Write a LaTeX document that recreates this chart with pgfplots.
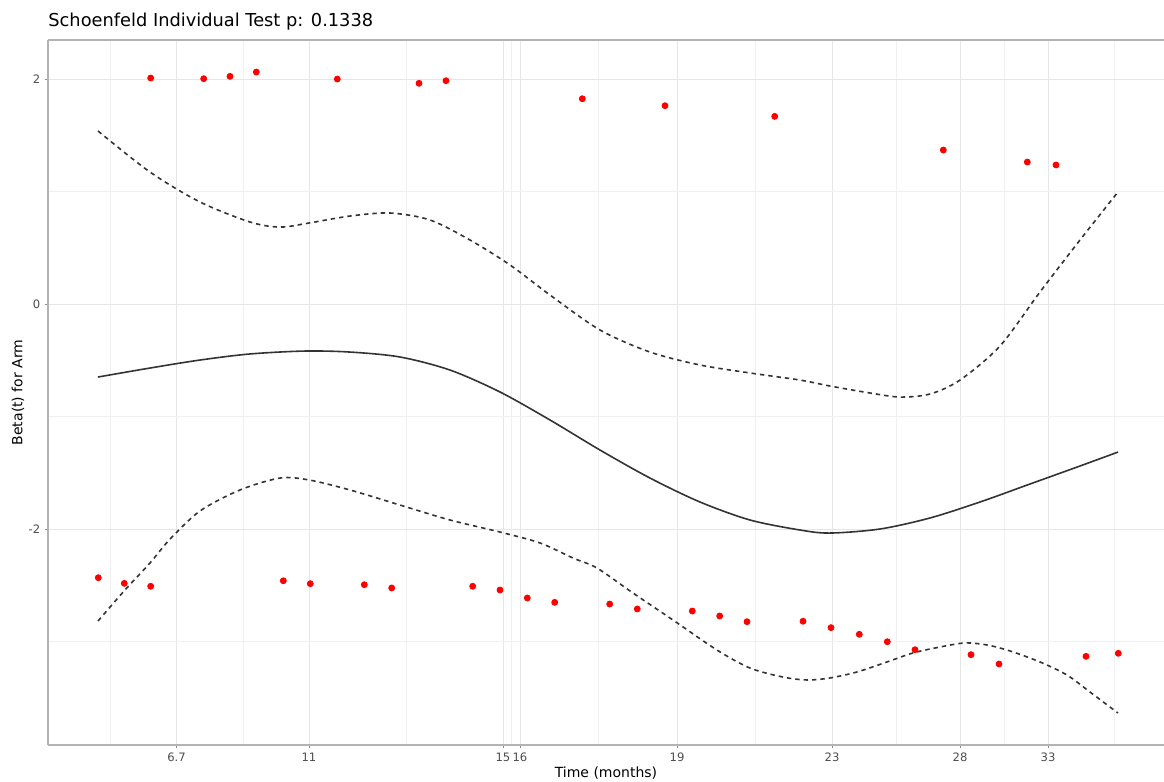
\documentclass[border=0pt]{standalone}
\usepackage{fontspec}
\setmainfont{DejaVu Sans}
\usepackage{pgfplots}
\pgfplotsset{compat=1.18}
\definecolor{gridmaj}{HTML}{E6E6E6}
\definecolor{gridmin}{HTML}{F0F0F0}
\definecolor{borderc}{HTML}{B3B3B3}
\definecolor{tickc}{HTML}{4D4D4D}
\definecolor{tickm}{HTML}{8C8C8C}
\definecolor{linec}{HTML}{333333}
\begin{document}
\begin{tikzpicture}
\begin{axis}[
  name=ax, at={(0,0)}, anchor=south west,
  scale only axis, width=558pt, height=352.5pt,
  xmin=48, xmax=1164, ymin=-3.92, ymax=2.347,
  axis x line=box, axis y line=left,
  axis line style={-, draw=borderc, line width=1pt},
  xtick={176.5,309,503,520,677,832,960,1048},
  xticklabels={6.7,11,15,16,19,23,28,33},
  ytick={-2,0,2}, yticklabels={-2,0,2},
  minor xtick={110.5,243,406,511.5,598.5,755,896,1004,1114},
  minor ytick={-3,-1,1},
  grid=both,
  major grid style={gridmaj, line width=0.5pt},
  minor grid style={gridmin, line width=0.4pt},
  tick align=outside, xtick pos=bottom, ytick pos=left,
  major tick length=1.6pt, minor tick length=0pt,
  every tick/.style={tickm, line width=0.5pt},
  tick label style={font=\fontsize{5.8}{6.5}\selectfont, text=tickc},
  xticklabel style={yshift=1pt},
  yticklabel style={xshift=1.2pt},
  title={Schoenfeld Individual Test p: 0.1338},
  title style={at={(0,1)}, anchor=base west, yshift=0.5pt, inner sep=0pt, font=\fontsize{8.9}{10}\selectfont},
  xlabel={Time (months)}, ylabel={Beta(t) for Arm},
  xlabel style={at={(0.5,0)}, anchor=center, yshift=-14pt, font=\fontsize{7}{8}\selectfont},
  ylabel style={at={(0,0.5)}, anchor=center, yshift=15pt, font=\fontsize{7}{8}\selectfont},
  clip=false,
]
% upper dashed confidence band
\addplot[linec, line width=0.8pt, dash pattern=on 2.2pt off 2pt, smooth, tension=0.5] coordinates {
(98,1.538) (150,1.173) (200,0.907) (250,0.729) (280,0.684) (309,0.720) (350,0.782)
(390,0.809) (430,0.747) (470,0.569) (510,0.347) (550,0.080) (600,-0.231) (650,-0.427)
(700,-0.542) (750,-0.613) (800,-0.676) (830,-0.729) (870,-0.791) (900,-0.827) (930,-0.800)
(960,-0.676) (1000,-0.373) (1040,0.107) (1080,0.569) (1118,0.996)
};
% lower dashed confidence band
\addplot[linec, line width=0.8pt, dash pattern=on 2.2pt off 2pt, smooth, tension=0.5] coordinates {
(98,-2.818) (125,-2.542) (150,-2.302) (170,-2.090) (200,-1.840) (240,-1.653) (280,-1.547)
(309,-1.564) (350,-1.653) (400,-1.787) (450,-1.920) (500,-2.027) (540,-2.124) (573,-2.258)
(597,-2.347) (633,-2.569) (673,-2.809) (717,-3.076) (750,-3.236) (783,-3.316) (807,-3.342)
(830,-3.324) (857,-3.271) (887,-3.182) (913,-3.102) (940,-3.049) (965,-3.013) (987,-3.031)
(1010,-3.084) (1040,-3.182) (1067,-3.298) (1090,-3.449) (1118,-3.636)
};
% fitted beta(t)
\addplot[linec, line width=0.8pt, smooth, tension=0.5] coordinates {
(98,-0.649) (150,-0.569) (200,-0.498) (250,-0.444) (305,-0.418) (350,-0.427) (400,-0.471)
(450,-0.587) (500,-0.782) (550,-1.031) (600,-1.298) (650,-1.547) (700,-1.760) (750,-1.920)
(800,-2.009) (830,-2.036) (880,-2.000) (930,-1.902) (980,-1.760) (1030,-1.600) (1080,-1.440)
(1118,-1.316)
};
% residual points
\addplot[only marks, mark=*, mark size=1.5pt, mark options={draw=red, fill=red}] coordinates {
(150.7,2.009) (203.7,2.003) (230,2.024) (256.3,2.062) (337.3,2.000) (419,1.962) (446,1.985)
(582.3,1.825) (665,1.763) (774.7,1.668) (943.3,1.369) (1027.3,1.262) (1056,1.236)
(98.3,-2.433) (124.3,-2.483) (150.7,-2.509) (283.3,-2.460) (310.3,-2.486) (364.3,-2.495)
(391.7,-2.524) (472.7,-2.509) (500,-2.542) (527.3,-2.613) (554.7,-2.652) (609.7,-2.667)
(637.3,-2.711) (692.3,-2.729) (719.7,-2.773) (747,-2.824) (803,-2.820) (831,-2.877)
(859.3,-2.936) (887.3,-3.002) (915,-3.073) (971,-3.117) (999,-3.200) (1086,-3.132)
(1118.3,-3.105)
};
\end{axis}
\pgfresetboundingbox
\path[use as bounding box] (ax.south west) ++(-24pt,-18.5pt) rectangle ++(582pt,391pt);
\end{tikzpicture}
\end{document}
